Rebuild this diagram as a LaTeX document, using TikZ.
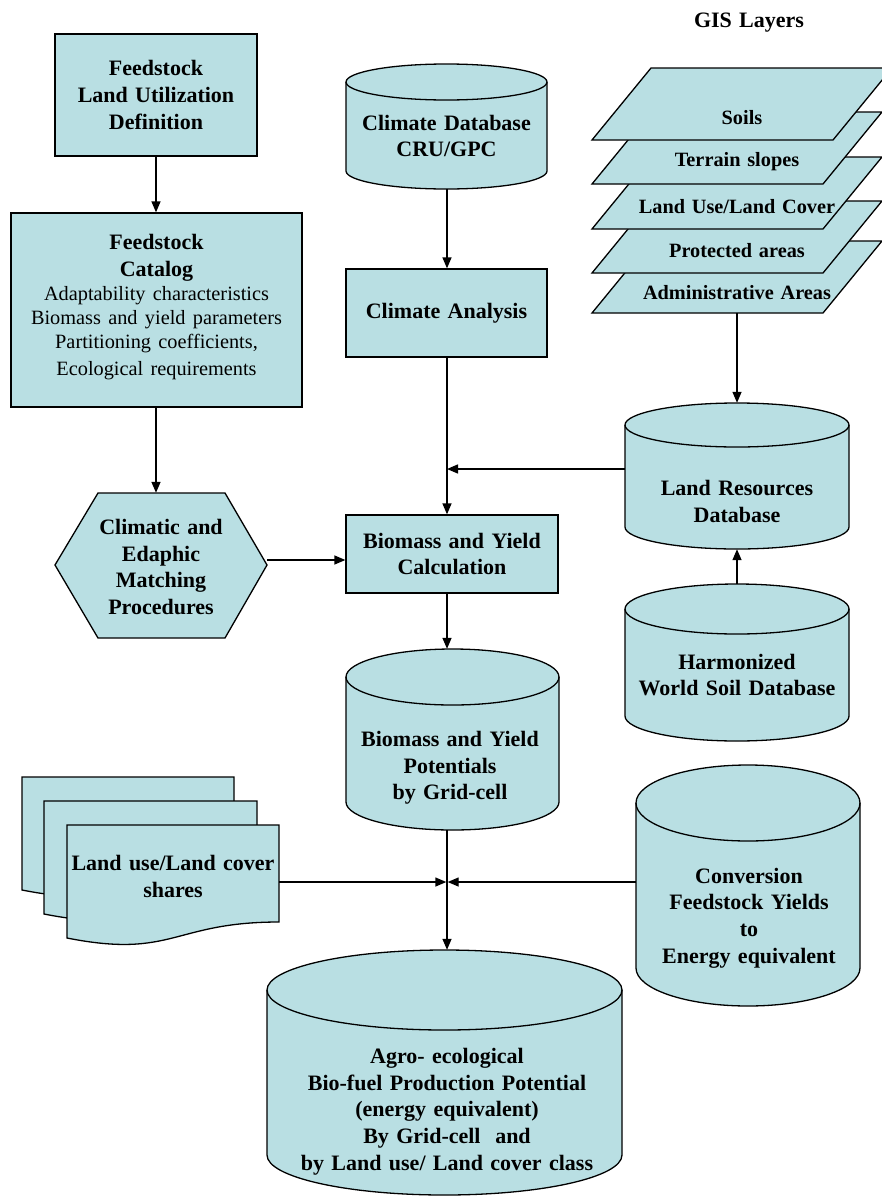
\documentclass[tikz,border=0pt]{standalone}
\usepackage{fontspec}
\setmainfont{Liberation Serif}
\usetikzlibrary{arrows.meta,fit,calc}
\definecolor{cfill}{RGB}{185,223,227}
\newcommand\bfb{\fontsize{22}{26.7}\selectfont\bfseries}
\newcommand\rgl{\fontsize{20.3}{24}\selectfont\mdseries}
\newcommand\lay{\fontsize{20.3}{24}\selectfont\bfseries}
\tikzset{
  shp/.style={draw=black, fill=cfill, line width=1.3pt, line join=miter},
  box/.style={shp, rectangle, inner sep=6pt, align=center, font=\bfb},
  arr/.style={draw=black, line width=1.4pt, -{Triangle[length=11pt,width=9pt]}},
  lbl/.style={align=center, text width=340pt, inner sep=0pt, font=\bfb},
  ghost/.style={inner sep=0pt, draw=none},
}
\newcommand\dbcyl[6]{% name, xl, xr, ytop-centre, ybottom-centre, ry
  \path[shp] (#2,#4) arc[start angle=180,end angle=0,x radius={(#3-#2)/2*1pt},y radius={#6*1pt}]
     -- (#3,#5) arc[start angle=0,end angle=-180,x radius={(#3-#2)/2*1pt},y radius={#6*1pt}] -- cycle;
  \draw[line width=1.3pt] (#2,#4) arc[start angle=180,end angle=360,x radius={(#3-#2)/2*1pt},y radius={#6*1pt}];
  \node[ghost, fit={(#2,#4-#6) (#3,#5+#6)}] (#1) {};
}
\begin{document}
\begin{tikzpicture}[x=1pt,y=-1pt]
\useasboundingbox (0,0) rectangle (882,1197);
\fill[white] (0,0) rectangle (882,1197);

% ---------- left column ----------
\node[box, minimum width=202pt, minimum height=122pt, text width=190pt] (lud) at (156,95)
  {Feedstock\\Land Utilization\\Definition};
\node[box, minimum width=291pt, minimum height=194pt, text width=279pt] (cat) at (156.5,310)
  {{\bfb Feedstock\\Catalog\par}\rgl Adaptability characteristics\\Biomass and yield parameters\\Partitioning coefficients,\\Ecological requirements\vspace{6pt}};

\draw[shp] (98,493) -- (225,493) -- (267,565) -- (225,638) -- (98,638) -- (55,565) -- cycle;
\node[ghost, fit={(55,493) (267,638)}] (hex) {};
\node[lbl] (hext) at (161,567) {Climatic and\\Edaphic\\Matching\\Procedures};

% ---------- centre column ----------
\dbcyl{climdb}{346}{547}{82}{171}{18}
\node[lbl] (climdbt) at (446.5,136) {Climate Database\\CRU/GPC};
\node[box, minimum width=201pt, minimum height=88pt, text width=189pt] (clima) at (446.5,313) {Climate Analysis};
\node[box, minimum width=212pt, minimum height=78pt, text width=200pt] (bio) at (452,554) {Biomass and Yield\\Calculation};
\dbcyl{pot}{346}{559}{677}{802}{28}
\node[lbl] (pott) at (450,768) {Biomass and Yield\\Potentials\\by Grid-cell};
\dbcyl{fin}{267}{622}{990}{1155}{40}
\node[lbl] (fint) at (447,1111.5) {Agro- ecological\\Bio-fuel Production Potential\\(energy equivalent)\\By Grid-cell\ \ and\\by Land use/ Land cover class};

% ---------- GIS layers ----------
\node[lbl] (gis) at (749,23) {GIS Layers};
\foreach \t/\r in {241/882,201/882,157/882,112/882,68/892}{
  \draw[shp] (592,\t+72) -- (651,\t) -- (\r,\t) -- (\r-59,\t+72) -- cycle;
}
\node[lbl, font=\lay] (soils) at (742,118) {Soils};
\node[lbl, font=\lay] (terr) at (737,162) {Terrain slopes};
\node[lbl, font=\lay] (lulc) at (737,207) {Land Use/Land Cover};
\node[lbl, font=\lay] (prot) at (737,251) {Protected areas};
\node[lbl, font=\lay] (adm) at (737,293) {Administrative Areas};
\node[ghost, fit={(592,241) (882,313)}] (admin) {};

% ---------- right column ----------
\dbcyl{lr}{625}{849}{425}{527}{22}
\node[lbl] (lrt) at (737,501.5) {Land Resources\\Database};
\dbcyl{hwsd}{625}{849}{609}{716}{25}
\node[lbl] (hwsdt) at (737,675) {Harmonized\\World Soil Database};
\dbcyl{conv}{636}{860}{803}{968}{38}
\node[lbl] (convt) at (749,918) {Conversion\\Feedstock Yields\\to\\Energy equivalent};

% ---------- documents ----------
\draw[shp] (22,777) -- (234,777) -- (234,874) .. controls (128,874) and (128,911) .. (22,890) -- cycle;
\draw[shp] (44,801) -- (257,801) -- (257,898) .. controls (150,898) and (150,935) .. (44,914) -- cycle;
\draw[shp] (67,825) -- (279,825) -- (279,922) .. controls (173,922) and (173,959) .. (67,938) -- cycle;
\node[ghost, fit={(67,825) (279,938)}] (docs) {};
\node[lbl] (docst) at (173,876.5) {Land use/Land cover\\shares};

% ---------- connectors ----------
\coordinate (j1) at (447,469);
\coordinate (j2) at (447,882);
\draw[arr] (lud.south) -- (lud.south |- cat.north);
\draw[arr] (lud.south |- cat.south) -- (lud.south |- hex.north);
\draw[arr] (j1 |- climdb.south) -- (j1 |- clima.north);
\draw[arr] (j1 |- clima.south) -- (j1 |- bio.north);
\draw[arr] (lr.west |- j1) -- (j1);
\draw[arr] (admin.south) -- (admin.south |- lr.north);
\draw[arr] (hwsd.north) -- (hwsd.north |- lr.south);
\coordinate (hexout) at ($(hex.east)+(0,-5.5)$);
\draw[arr] (hexout) -- (hexout -| bio.west);
\draw[arr] (j1 |- bio.south) -- (j1 |- pot.north);
\draw[arr] (j2 |- pot.south) -- (j2 |- fin.north);
\draw[arr, shorten >=0.7pt] (docs.east |- j2) -- (j2);
\draw[arr, shorten >=0.7pt] (conv.west |- j2) -- (j2);
\end{tikzpicture}
\end{document}
